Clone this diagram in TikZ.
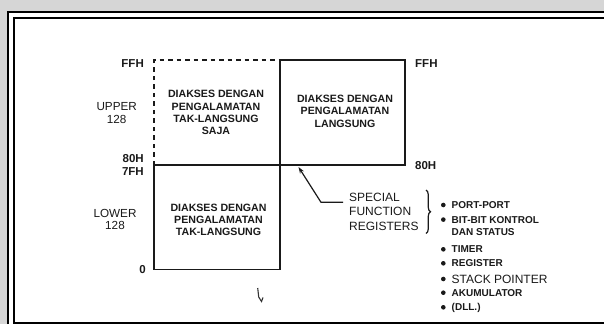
\documentclass[tikz,border=0pt]{standalone}
\usepackage{fontspec}
\setmainfont{Liberation Sans}
\usetikzlibrary{arrows.meta,decorations.pathreplacing}
\definecolor{scangray}{HTML}{D6D6D6}
\definecolor{inkblack}{HTML}{1A1A1A}

\begin{document}
\begin{tikzpicture}[x=1pt,y=-1pt,
    boxtext/.style={align=center,inner sep=0pt,text=inkblack,
      font=\fontsize{10.6}{12.2}\selectfont\bfseries},
    addr/.style={inner sep=0pt,text=inkblack,font=\fontsize{11.5}{13}\selectfont\bfseries},
    side/.style={align=center,inner sep=0pt,text=inkblack,font=\fontsize{11.7}{12.6}\selectfont},
    item/.style={anchor=base west,align=left,inner sep=0pt,text=inkblack,
      font=\fontsize{10}{12.3}\selectfont\bfseries},
    dot/.style={circle,fill=inkblack,inner sep=0pt,minimum size=4.6pt},
    mapline/.style={inkblack,line width=1.2pt}]
  \useasboundingbox (0,0) rectangle (604,324);
  \fill[scangray] (0,0) rectangle (604,324);
  \fill[white] (7,11) rectangle (604,324);
  \draw[line width=2pt] (8,324) -- (8,12) -- (604,12);
  \draw[line width=2pt] (604,322.5) -- (13.5,322.5) -- (13.5,17.5) -- (604,17.5);

  \coordinate (ul) at (154,60);
  \coordinate (mt) at (280,60);
  \coordinate (ml) at (154,165);
  \draw[mapline,dash pattern=on 4.5pt off 4pt] (ml) -- (ul) -- (mt);
  \draw[mapline] (mt) rectangle (405,165);
  \draw[mapline] (ml) rectangle (280,269.5);

  \node[boxtext] (upind) at (216,112.5)
    {DIAKSES DENGAN\\PENGALAMATAN\\TAK-LANGSUNG\\SAJA};
  \node[boxtext] (updir) at (345,111.3)
    {DIAKSES DENGAN\\PENGALAMATAN\\LANGSUNG};
  \node[boxtext] (loind) at (218.5,219.6)
    {DIAKSES DENGAN\\PENGALAMATAN\\TAK-LANGSUNG};

  \node[addr,anchor=east] (ffhl) at (144,63.5) {FFH};
  \node[addr,anchor=east] (h80l) at (144,159) {80H};
  \node[addr,anchor=east] (h7fl) at (144,171.7) {7FH};
  \node[addr,anchor=east] (zero) at (146,269.3) {0};
  \node[addr,anchor=west] (ffhr) at (415,64) {FFH};
  \node[addr,anchor=west] (h80r) at (415,166) {80H};
  \node[side] (upper) at (116.7,113) {UPPER\\128};
  \node[side] (lower) at (115,219.4) {LOWER\\128};

  \node[side,align=left,anchor=west,font=\fontsize{12}{14.8}\selectfont] (sfr) at (349,211.8)
    {SPECIAL\\FUNCTION\\REGISTERS};
  \coordinate (bend) at (321,202.3);
  \coordinate (tip) at (298.5,167);
  \draw[mapline,-{Stealth[length=6.5pt,width=4.5pt]}] ([xshift=-6pt]sfr.west |- bend) -- (bend) -- (tip);
  \draw[mapline,decorate,decoration={brace,amplitude=4.5pt}] (426,190) -- (426,233.5);

  \node[dot] (d1) at (443.3,205) {};
  \node[dot] (d2) at (443.3,219.6) {};
  \node[dot] (d3) at (443.3,249.3) {};
  \node[dot] (d4) at (443.3,263.3) {};
  \node[dot] (d5) at (443.3,279) {};
  \node[dot] (d6) at (443.3,292.7) {};
  \node[dot] (d7) at (443.3,307.3) {};
  \node[item] (portp) at (451.5,208.6) {PORT-PORT};
  \node[item] (bitk) at (451.5,235.9) {BIT-BIT KONTROL\\DAN STATUS};
  \node[item] (timer) at (451.5,252.9) {TIMER};
  \node[item] (regs) at (451.5,266.9) {REGISTER};
  \node[item,font=\fontsize{12}{14}\selectfont] (stack) at (451.5,283.3) {STACK POINTER};
  \node[item] (akum) at (451.5,296.3) {AKUMULATOR};
  \node[item] (dll) at (451.5,310.9) {(DLL.)};

  \draw[gray!40!black,line width=1.1pt] (257.7,288) -- (258.7,297) -- (261.5,301.5) -- (263,297.5);
\end{tikzpicture}
\end{document}
